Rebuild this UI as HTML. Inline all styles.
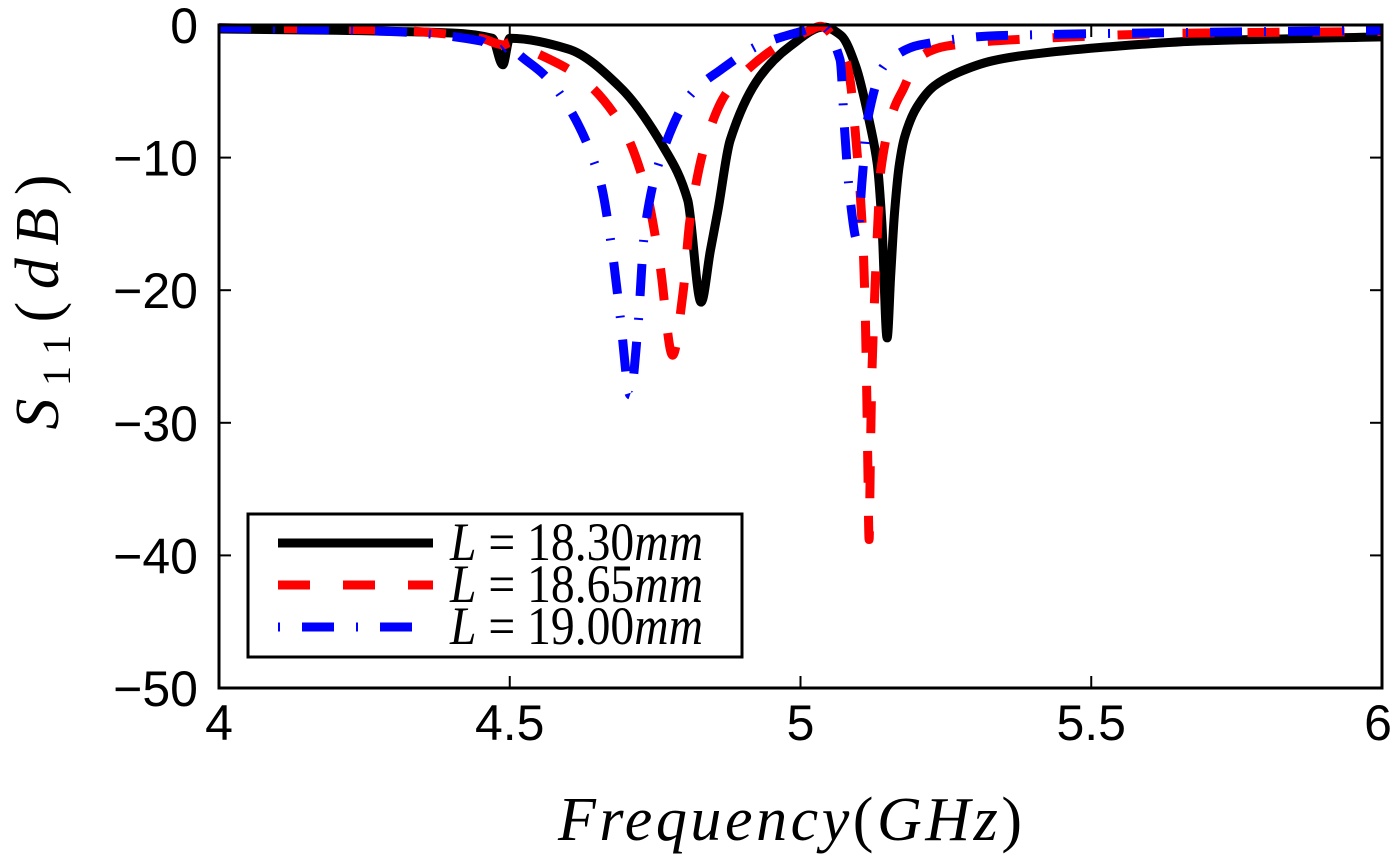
<!DOCTYPE html>
<html><head><meta charset="utf-8"><style>
html,body{margin:0;padding:0;background:#fff;}
svg{display:block;}
.tk{font-family:"Liberation Sans",sans-serif;font-size:50px;fill:#000;}
.ser{font-family:"Liberation Serif",serif;fill:#000;}
</style></head><body>
<svg id="chart" width="1400" height="859" viewBox="0 0 1400 859" xmlns="http://www.w3.org/2000/svg">
<g id="series"></g>
<rect x="219" y="25" width="1163" height="663" fill="none" stroke="#000" stroke-width="3"/>
<g id="ticks"></g>
<text class="ser" font-size="62" transform="translate(58,302) rotate(-90)" text-anchor="middle" textLength="255" lengthAdjust="spacing"><tspan font-style="italic">S</tspan><tspan font-size="40" dy="12">11</tspan><tspan dy="-12">(</tspan><tspan font-style="italic">dB</tspan>)</text>
<text class="ser" font-size="62" x="790" y="840" text-anchor="middle" textLength="464" lengthAdjust="spacing"><tspan font-style="italic">Frequency</tspan>(<tspan font-style="italic">GHz</tspan>)</text>
<g>
<rect x="248" y="514" width="494" height="143" fill="#fff" stroke="#000" stroke-width="3"/>
<line x1="278" y1="543" x2="433" y2="543" stroke="#000" stroke-width="9"/>
<line x1="278" y1="585" x2="433" y2="585" stroke="#f00" stroke-width="9" stroke-dasharray="32,33"/>
<line x1="278" y1="627" x2="433" y2="627" stroke="#00f" stroke-width="9" stroke-dasharray="2,22,32,22"/>
<text class="ser" font-size="54" x="450" y="560" textLength="253" lengthAdjust="spacingAndGlyphs"><tspan font-style="italic">L</tspan> = 18.30<tspan font-style="italic">mm</tspan></text>
<text class="ser" font-size="54" x="450" y="602" textLength="253" lengthAdjust="spacingAndGlyphs"><tspan font-style="italic">L</tspan> = 18.65<tspan font-style="italic">mm</tspan></text>
<text class="ser" font-size="54" x="450" y="644" textLength="253" lengthAdjust="spacingAndGlyphs"><tspan font-style="italic">L</tspan> = 19.00<tspan font-style="italic">mm</tspan></text>
</g>
</svg>
<script>
const xTicks=[4,4.5,5,5.5,6];
const xTickLabels=["4","4.5","5","5.5","6"];
const yTicks=[0,-10,-20,-30,-40,-50];
const yTickLabels=["0","\u221210","\u221220","\u221230","\u221240","\u221250"];
const fBlack=[4.0,4.2,4.4,4.47,4.488,4.5,4.6,4.69,4.767,4.806,4.829,4.845,4.858,4.879,4.93,4.982,5.04,5.07,5.095,5.12,5.132,5.14,5.149,5.155,5.162,5.17,5.18,5.2,5.23,5.27,5.33,5.4,5.515,5.69,6.0];
const sBlack=[-0.3,-0.4,-0.6,-1.0,-3.0,-1.0,-1.8,-4.7,-9.4,-13.2,-20.9,-17,-14,-8.7,-3.9,-1.6,-0.15,-0.8,-3.1,-7.6,-10.5,-15,-23.6,-19,-14,-10.5,-8.3,-6.2,-4.6,-3.6,-2.7,-2.2,-1.7,-1.2,-0.9];
const fRed=[4.0,4.3,4.45,4.49,4.5,4.55,4.62,4.69,4.733,4.758,4.78,4.798,4.81,4.836,4.87,4.913,4.965,5.016,5.034,5.077,5.085,5.094,5.106,5.111,5.114,5.116,5.118,5.12,5.123,5.128,5.133,5.138,5.16,5.176,5.205,5.25,5.37,5.69,6.0];
const sRed=[-0.2,-0.4,-1.0,-1.5,-1.3,-2.2,-3.9,-7.4,-12.2,-18,-24.9,-20.2,-14.7,-9,-5.3,-3.2,-1.5,-0.4,-0.1,-2.6,-4.1,-8,-15,-21,-28,-34,-38.8,-33,-26,-20,-15,-11,-6.4,-4.9,-2.4,-1.6,-1.1,-0.6,-0.5];
const fBlue=[4.0,4.3,4.45,4.48,4.5,4.518,4.56,4.604,4.655,4.676,4.69,4.707,4.72,4.732,4.758,4.81,4.862,4.93,5.0,5.037,5.068,5.076,5.085,5.097,5.106,5.115,5.145,5.205,5.34,6.0];
const sBlue=[-0.2,-0.5,-1.2,-2.0,-1.5,-2.3,-3.8,-6.4,-11.7,-17,-22,-27.9,-23,-15.5,-10.2,-5.3,-3.4,-1.5,-0.5,-0.1,-2.6,-8,-13,-16.2,-11.7,-7.2,-3,-1.5,-0.8,-0.4];
const NS='http://www.w3.org/2000/svg';
function X(f){return 219+(f-4)*581.5;}
function Y(d){return 25-d*13.26;}
function monotonePath(xs,ys){
  const n=xs.length,d=[],m=new Array(n);
  for(let i=0;i<n-1;i++)d.push((ys[i+1]-ys[i])/(xs[i+1]-xs[i]));
  m[0]=d[0];m[n-1]=d[n-2];
  for(let i=1;i<n-1;i++){m[i]=(d[i-1]*d[i]<=0)?0:2/(1/d[i-1]+1/d[i]);}
  let s='M'+xs[0].toFixed(1)+','+ys[0].toFixed(1);
  for(let i=0;i<n-1;i++){const h=(xs[i+1]-xs[i])/3;
    s+='C'+(xs[i]+h).toFixed(1)+','+(ys[i]+m[i]*h).toFixed(1)+' '+(xs[i+1]-h).toFixed(1)+','+(ys[i+1]-m[i+1]*h).toFixed(1)+' '+xs[i+1].toFixed(1)+','+ys[i+1].toFixed(1);}
  return s;
}
const sg=document.getElementById('series');
function draw(fs,vs,color,dash,name){
  const p=document.createElementNS(NS,'path');
  p.setAttribute('d',monotonePath(fs.map(X),vs.map(Y)));
  p.setAttribute('fill','none');p.setAttribute('stroke',color);p.setAttribute('stroke-width','9');
  p.setAttribute('stroke-linejoin','round');
  if(dash)p.setAttribute('stroke-dasharray',dash);
  
  
  sg.appendChild(p);
}
draw(fBlack,sBlack,'#000',null,'series-l-18-30');
draw(fRed,sRed,'#f00','32,33','series-l-18-65');
draw(fBlue,sBlue,'#00f','32,22,2,22','series-l-19-00');
const tg=document.getElementById('ticks');
xTicks.forEach((v,i)=>{
  const x=X(v);
  [[688,676],[25,37]].forEach(a=>{const l=document.createElementNS(NS,'line');
    l.setAttribute('x1',x);l.setAttribute('x2',x);l.setAttribute('y1',a[0]);l.setAttribute('y2',a[1]);
    l.setAttribute('stroke','#000');l.setAttribute('stroke-width','2');
    
    
    tg.appendChild(l);});
  const t=document.createElementNS(NS,'text');
  t.setAttribute('x',Math.min(x,1378));t.setAttribute('y',740);t.setAttribute('class','tk');
  t.setAttribute('text-anchor','middle');t.textContent=xTickLabels[i];
  
  
  tg.appendChild(t);
});
yTicks.forEach((v,i)=>{
  const y=Y(v);
  [[219,231],[1382,1370]].forEach(a=>{const l=document.createElementNS(NS,'line');
    l.setAttribute('x1',a[0]);l.setAttribute('x2',a[1]);l.setAttribute('y1',y);l.setAttribute('y2',y);
    l.setAttribute('stroke','#000');l.setAttribute('stroke-width','2');
    
    
    tg.appendChild(l);});
  const t=document.createElementNS(NS,'text');
  t.setAttribute('x',198);t.setAttribute('y',Math.max(y+18,43));t.setAttribute('class','tk');
  t.setAttribute('text-anchor','end');t.textContent=yTickLabels[i];
  
  
  tg.appendChild(t);
});
</script>
</body></html>
